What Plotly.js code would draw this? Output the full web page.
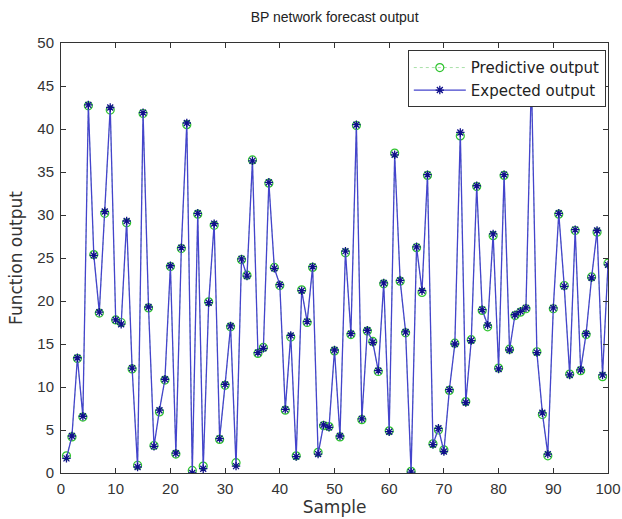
<!DOCTYPE html>
<html>
<head>
<meta charset="utf-8">
<script src="https://cdn.plot.ly/plotly-3.0.1.min.js"></script>
<style>html,body{margin:0;padding:0;background:#fff;}#chart{width:622px;height:519px;}</style>
</head>
<body>
<div id="chart"></div>
<script>
var samples = [];
for (var i = 1; i <= 100; i++) samples.push(i);

var expectedOutput = [
  1.7, 4.3, 13.4, 6.6, 42.8, 25.3, 18.7, 30.4, 42.5, 17.8,
  17.3, 29.3, 12.2, 0.7, 41.9, 19.3, 3.1, 7.3, 10.9, 24.1,
  2.3, 26.2, 40.7, 0.0, 30.2, 0.5, 19.8, 29.0, 4.0, 10.3,
  17.1, 0.8, 24.9, 22.9, 36.3, 14.0, 14.5, 33.8, 23.8, 21.9,
  7.4, 16.0, 1.9, 21.2, 17.6, 24.0, 2.2, 5.6, 5.3, 14.3,
  4.3, 25.8, 16.2, 40.5, 6.3, 16.6, 15.2, 11.9, 22.1, 4.8,
  37.0, 22.4, 16.4, 0.1, 26.3, 21.2, 34.7, 3.3, 5.2, 2.5,
  9.7, 15.0, 39.6, 8.2, 15.4, 33.4, 19.0, 17.2, 27.8, 12.1,
  34.7, 14.3, 18.4, 18.8, 19.2, 46.0, 14.0, 7.0, 2.2, 19.2,
  30.2, 21.7, 11.4, 28.3, 12.0, 16.2, 22.7, 28.2, 11.4, 24.2
];

var predictiveOutput = [
  2.0, 4.2, 13.3, 6.5, 42.7, 25.4, 18.6, 30.2, 42.2, 17.8,
  17.5, 29.1, 12.1, 0.9, 41.8, 19.2, 3.2, 7.1, 10.8, 24.0,
  2.2, 26.1, 40.5, 0.3, 30.1, 0.8, 19.9, 28.8, 3.9, 10.2,
  17.0, 1.2, 24.8, 23.0, 36.4, 13.9, 14.6, 33.7, 23.9, 21.8,
  7.3, 15.8, 2.0, 21.3, 17.5, 23.9, 2.4, 5.5, 5.4, 14.2,
  4.2, 25.6, 16.1, 40.4, 6.2, 16.5, 15.3, 11.8, 22.0, 4.9,
  37.2, 22.3, 16.3, 0.2, 26.2, 21.0, 34.6, 3.4, 5.0, 2.7,
  9.6, 15.1, 39.2, 8.3, 15.5, 33.3, 18.9, 17.0, 27.6, 12.2,
  34.6, 14.4, 18.3, 18.7, 19.1, 45.8, 14.1, 6.8, 2.0, 19.1,
  30.1, 21.8, 11.5, 28.2, 11.9, 16.1, 22.8, 28.0, 11.2, 24.4
];

var xTicks = [0, 10, 20, 30, 40, 50, 60, 70, 80, 90, 100];
var yTicks = [0, 5, 10, 15, 20, 25, 30, 35, 40, 45, 50];

var traces = [
  {
    x: samples, y: predictiveOutput, name: 'Predictive output',
    type: 'scatter', mode: 'lines+markers',
    line: {color: '#a8e0a8', width: 1, dash: 'dot'},
    marker: {symbol: 'circle-open', size: 8, color: '#2fc42f', line: {width: 1.2}}
  },
  {
    x: samples, y: expectedOutput, name: 'Expected output',
    type: 'scatter', mode: 'lines+markers',
    line: {color: '#4444cc', width: 1.3},
    marker: {symbol: 'asterisk-open', size: 7, color: '#10108a', line: {width: 1.3, color: '#10108a'}}
  }
];

var axisCommon = {
  showgrid: false, zeroline: false, showline: true, mirror: 'ticks',
  linecolor: '#333', linewidth: 1, ticks: 'inside', ticklen: 5, tickcolor: '#333',
  tickfont: {family: 'Liberation Sans, Arial, sans-serif', size: 15, color: '#333'}
};

var layout = {
  width: 622, height: 519,
  margin: {l: 61, r: 14, t: 43, b: 46},
  paper_bgcolor: '#fff', plot_bgcolor: '#fff',
  title: {text: 'BP network forecast output', x: 0.538, xanchor: 'center', y: 0.967, yanchor: 'middle',
          font: {family: 'Liberation Sans, Arial, sans-serif', size: 14, color: '#222'}},
  xaxis: Object.assign({}, axisCommon, {
    range: [0, 100], tickvals: xTicks, ticktext: xTicks.map(String), ticklabelstandoff: 2,
    title: {text: 'Sample', standoff: 2, font: {family: 'DejaVu Sans, sans-serif', size: 17, color: '#333'}}
  }),
  yaxis: Object.assign({}, axisCommon, {
    range: [0, 50], tickvals: yTicks, ticktext: yTicks.map(String), ticklabelstandoff: 3,
    title: {text: 'Function output', standoff: 10, font: {family: 'DejaVu Sans, sans-serif', size: 17, color: '#333'}}
  }),
  showlegend: true,
  legend: {
    x: 0.996, y: 0.983, xanchor: 'right', yanchor: 'top',
    bgcolor: '#fff', bordercolor: '#333', borderwidth: 1,
    font: {family: 'DejaVu Sans, sans-serif', size: 15, color: '#222'},
    tracegroupgap: 0, itemwidth: 52
  }
};

Plotly.newPlot('chart', traces, layout, {displayModeBar: false, staticPlot: true});
</script>
</body>
</html>
